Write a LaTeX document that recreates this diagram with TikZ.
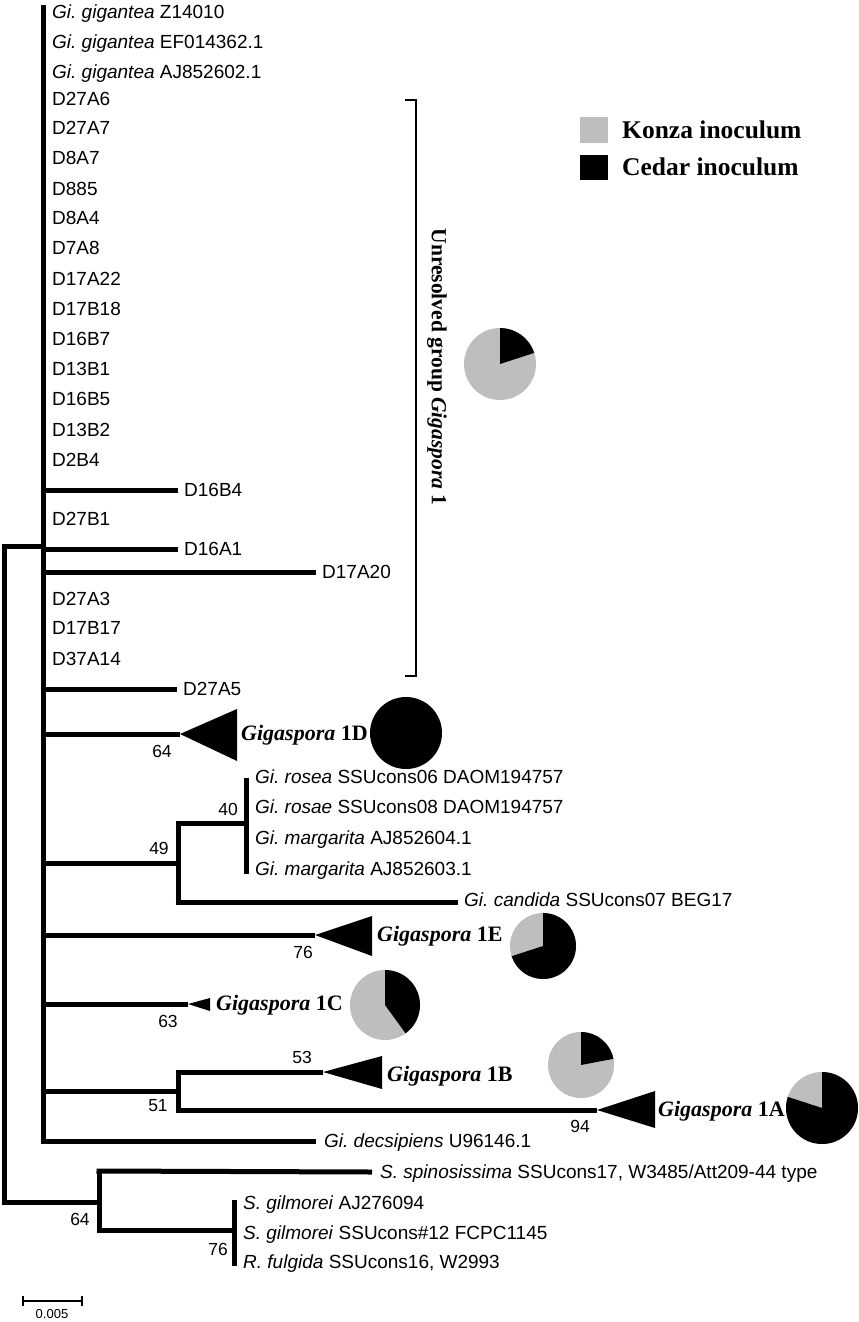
\documentclass[tikz,border=0pt]{standalone}
\usepackage{fontspec}
\setmainfont{Liberation Serif}
\newfontfamily\arialf{Liberation Sans}
\definecolor{pgray}{RGB}{190,190,190}
\frenchspacing
\tikzset{
  br/.style={line width=5pt},
  thinline/.style={line width=1.4pt},
  tax/.style={anchor=west, inner sep=0pt, font=\arialf\fontsize{19}{19}\selectfont, text height=13.6pt, text depth=0pt},
  boot/.style={inner sep=0pt, font=\arialf\fontsize{17.5}{17.5}\selectfont, text height=12.5pt, text depth=0pt},
  clade/.style={anchor=west, inner sep=0pt, font=\fontsize{22}{22}\selectfont\bfseries, text height=14.6pt, text depth=0pt},
  legtext/.style={anchor=west, inner sep=0pt, font=\fontsize{25.5}{25.5}\selectfont\bfseries, text height=16.9pt, text depth=0pt},
  tri/.style={fill=black},
}
% pie: center, radius, black fraction
\newcommand{\mypie}[3]{%
  \fill[pgray] (#1) circle[radius=#2];
  \fill[black] (#1) -- ++(-90:#2) arc[start angle=-90, end angle={-90+360*#3}, radius=#2] -- cycle;
}
\begin{document}
\begin{tikzpicture}[x=1pt, y=-1pt]
\useasboundingbox (0,0) rectangle (859,1322);
\fill[white] (0,0) rectangle (859,1322);

% ---- internal node coordinates
\coordinate (top) at (43,5);
\coordinate (bot) at (43,1141);
\coordinate (rootT) at (4,546);
\coordinate (rootB) at (4,1202);
\coordinate (mainR) at (43,546);
\coordinate (sc) at (99,1202);
\coordinate (scT) at (99,1171);
\coordinate (scB) at (99,1230);
\coordinate (gil) at (234,1230);
\coordinate (gilT) at (234,1200);
\coordinate (gilB) at (234,1266);

% ---- main backbone
\draw[br] (top) -- (bot);
\draw[br] (rootT) -- (rootB);
\draw[br] ([xshift=-2.5pt]rootT) -- (mainR);
\draw[br] ([xshift=-2.5pt]rootB) -- (sc);

% ---- zero-length leaves on the backbone
\foreach \t/\y in {{\textit{Gi. gigantea} Z14010}/12, {\textit{Gi. gigantea} EF014362.1}/42, {\textit{Gi. gigantea} AJ852602.1}/72,
  D27A6/99, D27A7/128, D8A7/158, D885/189, D8A4/218, D7A8/248, D17A22/279, D17B18/309, D16B7/339, D13B1/369,
  D16B5/399, D13B2/430, D2B4/460, D27B1/519, D27A3/599, D17B17/628, D37A14/659}
  \node[tax] at (52,\y) {\t};

% ---- short branches
\node[tax] (d16b4) at (184,490) {D16B4};
\node[tax] (d16a1) at (184,549) {D16A1};
\node[tax] (d17a20) at (322,572) {D17A20};
\node[tax] (d27a5) at (183,689) {D27A5};
\draw[br] (43,490) -- ([xshift=-6pt]d16b4.west);
\draw[br] (43,549) -- ([xshift=-6pt]d16a1.west);
\draw[br] (43,572) -- ([xshift=-6pt]d17a20.west);
\draw[br] (43,689) -- ([xshift=-6pt]d27a5.west);

% ---- Gigaspora 1D
\coordinate (a1D) at (180,734);
\draw[br] (43,734) -- (a1D);
\fill[tri] (a1D) -- (237,709) -- (237,761) -- cycle;
\node[clade] (l1D) at (241,733) {\textit{Gigaspora} 1D};
\node[boot] at (162,751) {64};
\coordinate (p1D) at (406,733);
\fill[black] (p1D) circle[radius=36];

% ---- rosea / margarita / candida clade
\coordinate (n49) at (178,863);
\coordinate (n40) at (246,823);
\draw[br] (43,863) -- (n49);
\draw[br] (178,823) -- (178,902);
\draw[br] ([xshift=-2.5pt]178,823) -- (n40);
\draw[br] (246,778) -- (246,874);
\node[boot] at (159,848) {49};
\node[boot] at (228,809) {40};
\node[tax] at (255,777) {\textit{Gi. rosea} SSUcons06 DAOM194757};
\node[tax] at (255,807) {\textit{Gi. rosae} SSUcons08 DAOM194757};
\node[tax] at (255,838) {\textit{Gi. margarita} AJ852604.1};
\node[tax] at (255,869) {\textit{Gi. margarita} AJ852603.1};
\node[tax] (cand) at (464,900) {\textit{Gi. candida} SSUcons07 BEG17};
\draw[br] ([xshift=-2.5pt]178,902) -- ([xshift=-6pt]cand.west|-178,902);

% ---- Gigaspora 1E
\coordinate (a1E) at (315,935);
\draw[br] (43,935) -- (a1E);
\fill[tri] (a1E) -- (372,916) -- (372,956) -- cycle;
\node[clade] at (377,934) {\textit{Gigaspora} 1E};
\node[boot] at (303,952) {76};
\coordinate (p1E) at (543,946);
\mypie{p1E}{33}{0.70}

% ---- Gigaspora 1C
\coordinate (a1C) at (188,1004);
\draw[br] (43,1004) -- (a1C);
\fill[tri] (a1C) -- (210,998) -- (210,1011) -- cycle;
\node[clade] at (216,1003) {\textit{Gigaspora} 1C};
\node[boot] at (168,1021) {63};
\coordinate (p1C) at (385,1005);
\mypie{p1C}{35}{0.40}

% ---- Gigaspora 1B / 1A
\coordinate (n51) at (178,1091);
\draw[br] (43,1091) -- (n51);
\draw[br] (178,1072) -- (178,1110);
\coordinate (a1B) at (323,1072);
\coordinate (a1A) at (597,1110);
\draw[br] ([xshift=-2.5pt]178,1072) -- (a1B);
\draw[br] ([xshift=-2.5pt]178,1110) -- (a1A);
\fill[tri] (a1B) -- (382,1056) -- (382,1089) -- cycle;
\fill[tri] (a1A) -- (655,1091) -- (655,1128) -- cycle;
\node[clade] at (387,1074) {\textit{Gigaspora} 1B};
\node[clade] at (658,1109) {\textit{Gigaspora} 1A};
\node[boot] at (158,1105) {51};
\node[boot] at (302,1057) {53};
\node[boot] at (580,1126) {94};
\coordinate (p1B) at (581,1065);
\mypie{p1B}{33}{0.22}
\coordinate (p1A) at (822,1108);
\mypie{p1A}{36}{0.80}

% ---- decsipiens
\node[tax] (dec) at (324,1141) {\textit{Gi. decsipiens} U96146.1};
\draw[br] ([xshift=-2.5pt]bot) -- ([xshift=-8pt]dec.west);

% ---- Scutellospora / Racocetra
\draw[br] (scT) -- (scB);
\node[tax] (spin) at (380,1172) {\textit{S. spinosissima} SSUcons17, W3485/Att209-44 type};
\draw[br] ([xshift=-2.5pt]scT) -- ([xshift=-8pt]spin.west);
\draw[br] ([xshift=-2.5pt]scB) -- (gil);
\draw[br] (gilT) -- (gilB);
\node[boot] at (80,1219) {64};
\node[boot] at (218,1249) {76};
\node[tax] at (243,1203) {\textit{S. gilmorei} AJ276094};
\node[tax] at (243,1233) {\textit{S. gilmorei} SSUcons\#12 FCPC1145};
\node[tax] at (243,1262) {\textit{R. fulgida} SSUcons16, W2993};

% ---- scale bar
\coordinate (sbL) at (23,1301);
\coordinate (sbR) at (82,1301);
\draw[line width=1.3pt] (sbL) -- (sbR);
\draw[line width=1.3pt] (23,1296) -- (23,1306);
\draw[line width=1.3pt] (82,1296) -- (82,1306);
\node[inner sep=0pt, font=\arialf\fontsize{13}{13}\selectfont] at (52,1314) {0.005};

% ---- bracket
\coordinate (brT) at (416,100);
\coordinate (brB) at (416,676);
\draw[thinline] (405,100) -- (brT) -- (brB) -- (405,676);
\node[inner sep=0pt, rotate=-90, font=\fontsize{21.5}{21.5}\selectfont\bfseries] at (437,367) {Unresolved group \textit{Gigaspora} 1};
\coordinate (pU) at (500,364);
\mypie{pU}{36}{0.20}

% ---- legend
\fill[pgray] (580,117) rectangle (608,143);
\fill[black] (580,155) rectangle (608,180);
\node[legtext] at (622,130) {Konza inoculum};
\node[legtext] at (622,167) {Cedar inoculum};
\end{tikzpicture}
\end{document}
